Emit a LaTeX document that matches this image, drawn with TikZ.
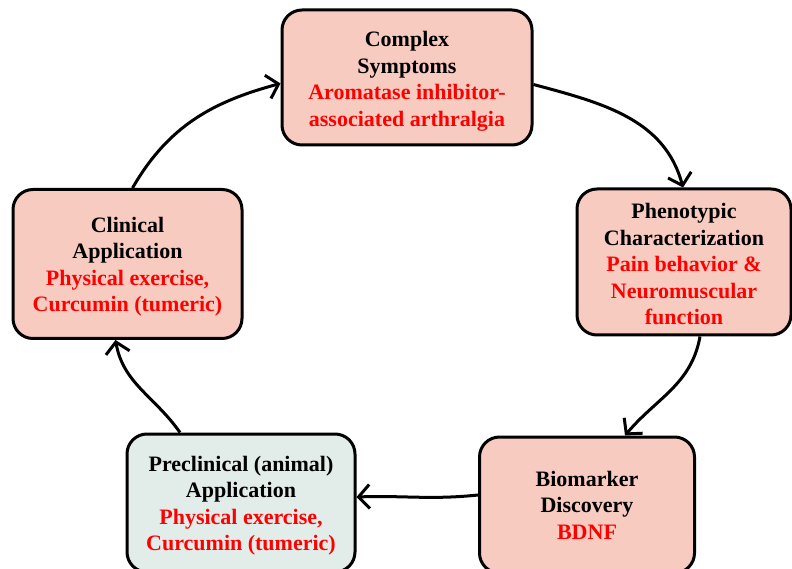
\documentclass[tikz,border=0pt]{standalone}
\usepackage{fontspec}
\setmainfont{Liberation Serif}
\usetikzlibrary{arrows.meta}
\definecolor{salmon}{HTML}{F8CBC0}
\definecolor{paleg}{HTML}{E2ECE8}
\definecolor{redtxt}{HTML}{FF0000}
\tikzset{
  box/.style={draw=black, line width=3pt, rounded corners=20pt, fill=salmon,
    align=center, font=\bfseries\fontsize{22}{26.5}\selectfont, inner sep=0pt},
  conn/.style={line width=3pt, -{Straight Barb[length=11pt,width=24pt]}},
}
\newcommand{\rt}[1]{\textcolor{redtxt}{#1}}
\newcommand{\dn}[1]{\rule{0pt}{#1}}
\begin{document}
\begin{tikzpicture}[x=1pt,y=1pt]
\useasboundingbox (0,0) rectangle (792,568);
\node[box, minimum width=250pt, minimum height=135pt] (cs) at (407,490.5)
  {\dn{23pt}Complex\\Symptoms\\\rt{Aromatase inhibitor-}\\\rt{associated arthralgia}};
\node[box, minimum width=214pt, minimum height=146pt] (ph) at (684,306)
  {\dn{20pt}Phenotypic\\Characterization\\\rt{Pain behavior \&}\\\rt{Neuromuscular}\\\rt{function}};
\node[box, minimum width=215pt, minimum height=136pt] (bm) at (587,63)
  {Biomarker\\Discovery\\\rt{BDNF}};
\node[box, fill=paleg, minimum width=228pt, minimum height=138pt] (pc) at (241,65)
  {\dn{21pt}Preclinical (animal)\\Application\\\rt{Physical exercise,}\\\rt{Curcumin (tumeric)}};
\node[box, minimum width=229pt, minimum height=149pt] (cl) at (127.5,304)
  {\dn{21pt}Clinical\\Application\\\rt{Physical exercise,}\\\rt{Curcumin (tumeric)}};
\draw[conn] ([xshift=5pt]cl.north) to[out=60,in=195] ([yshift=-6pt]cs.west);
\draw[conn] ([yshift=-7pt]cs.east) to[out=-15,in=105] ([xshift=-1pt]ph.north);
\draw[conn] ([xshift=16pt]ph.south) to[out=-100,in=50] ([xshift=38pt]bm.north);
\draw[conn] ([yshift=10pt]bm.west) to[out=186,in=2] ([yshift=6pt]pc.east);
\draw[conn] ([xshift=-61pt]pc.north) to[out=125,in=-80] ([xshift=-12pt]cl.south);
\end{tikzpicture}
\end{document}
